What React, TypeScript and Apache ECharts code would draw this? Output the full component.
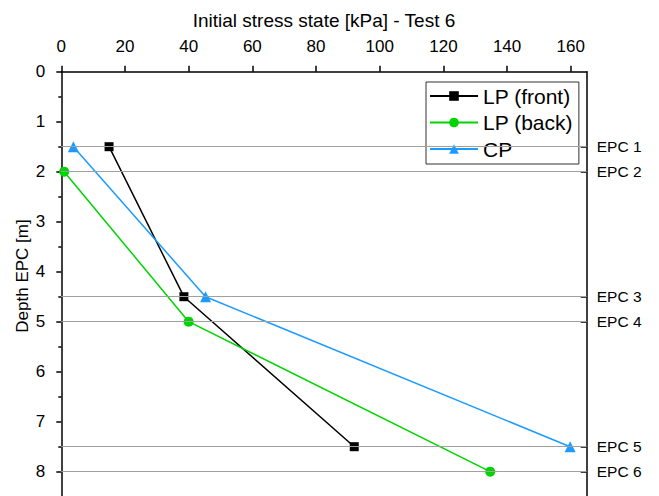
import React, { useEffect, useRef } from "react";
import * as echarts from "echarts";

const seriesNames = ["LP (front)", "LP (back)", "CP"];
const lpFront: [number, number][] = [[15, 1.5], [38.5, 4.5], [92, 7.5]];
const lpBack: [number, number][] = [[0.9, 2], [40, 5], [134.7, 8]];
const cp: [number, number][] = [[3.8, 1.5], [45.3, 4.5], [159.8, 7.5]];
const epcDepths = [1.5, 2, 4.5, 5, 7.5, 8];
const epcLabels = ["EPC 1", "EPC 2", "EPC 3", "EPC 4", "EPC 5", "EPC 6"];
const xTicks = [0, 20, 40, 60, 80, 100, 120, 140, 160];

const FONT = "'Liberation Sans', Arial, sans-serif";

export default function App() {
  const ref = useRef<HTMLDivElement>(null);
  useEffect(() => {
    if (!ref.current) return;
    const chart = echarts.init(ref.current, undefined, { renderer: "svg" });
    const axisLine = { show: true, lineStyle: { color: "#000", width: 1.5 } };
    chart.setOption({
      animation: false,
      backgroundColor: "#fff",
      textStyle: { fontFamily: FONT },
      grid: { left: 61.3, top: 71.7, width: 525.4, height: 450 },
      legend: {
        data: seriesNames,
        orient: "vertical",
        left: 426,
        top: 82,
        itemWidth: 48,
        itemHeight: 12,
        itemGap: 5.5,
        padding: [3.5, 6, 4.5, 3],
        borderColor: "#333",
        borderWidth: 1,
        textStyle: { fontSize: 21, color: "#000", fontFamily: FONT },
      },
      xAxis: {
        type: "value",
        position: "top",
        min: 0,
        max: 165,
        name: "Initial stress state [kPa] - Test 6",
        nameLocation: "middle",
        nameGap: 42,
        nameTextStyle: { fontSize: 19, color: "#000", fontFamily: FONT },
        axisLine,
        axisTick: { show: true, inside: false, length: 6, customValues: xTicks, lineStyle: { color: "#000", width: 1.5 } },
        axisLabel: { customValues: xTicks, fontSize: 17, color: "#000", margin: 17, fontFamily: FONT },
        splitLine: { show: false },
      },
      yAxis: [
        {
          type: "value",
          inverse: true,
          min: 0,
          max: 9,
          interval: 1,
          axisLine,
          axisTick: { show: true, inside: false, length: 5, lineStyle: { color: "#000", width: 1.5 } },
          minorTick: { show: true, splitNumber: 2, length: 3, lineStyle: { color: "#000", width: 1.5 } },
          axisLabel: {
            fontSize: 17,
            color: "#000",
            margin: 16,
            fontFamily: FONT,
            formatter: (v: number) => (v > 8 ? "" : String(v)),
          },
          splitLine: { show: false },
          minorSplitLine: { show: false },
        },
        {
          type: "value",
          position: "right",
          inverse: true,
          min: 0,
          max: 9,
          axisLine,
          axisTick: { show: true, inside: true, length: 6, customValues: epcDepths, lineStyle: { color: "#000", width: 1.5 } },
          axisLabel: {
            customValues: epcDepths,
            fontSize: 15.5,
            color: "#000",
            margin: 10,
            fontFamily: FONT,
            formatter: (v: number) => {
              const i = epcDepths.indexOf(v);
              return i >= 0 ? epcLabels[i] : "";
            },
          },
          splitLine: { show: false },
        },
      ],
      graphic: [
        {
          type: "text",
          x: 22,
          y: 276,
          rotation: Math.PI / 2,
          style: {
            text: "Depth EPC [m]",
            fontSize: 17,
            fontFamily: FONT,
            fill: "#000",
            align: "center",
            verticalAlign: "middle",
          },
        },
      ],
      series: [
        {
          type: "line",
          name: "guides",
          data: [],
          z: 1,
          silent: true,
          markLine: {
            silent: true,
            symbol: "none",
            label: { show: false },
            lineStyle: { color: "#a0a0a0", width: 1.2, type: "solid" },
            data: epcDepths.map((d) => ({ yAxis: d })),
          },
        },
        {
          type: "line",
          name: seriesNames[0],
          data: lpFront,
          z: 3,
          symbol: "rect",
          symbolSize: 9,
          color: "#000",
          lineStyle: { color: "#000", width: 1.5 },
          itemStyle: { color: "#000" },
        },
        {
          type: "line",
          name: seriesNames[1],
          data: lpBack,
          z: 3,
          symbol: "circle",
          symbolSize: 10,
          color: "#00d400",
          lineStyle: { color: "#00d400", width: 1.5 },
          itemStyle: { color: "#00d400" },
        },
        {
          type: "line",
          name: seriesNames[2],
          data: cp,
          z: 3,
          symbol: "triangle",
          symbolSize: 11,
          color: "#1a9bff",
          lineStyle: { color: "#1a9bff", width: 1.5 },
          itemStyle: { color: "#1a9bff" },
        },
      ],
    });
    return () => chart.dispose();
  }, []);
  return (
    <div style={{ position: "fixed", left: 0, top: 0, width: 659, height: 496, overflow: "hidden", background: "#fff" }}>
      <div ref={ref} style={{ width: 659, height: 540 }} />
    </div>
  );
}
